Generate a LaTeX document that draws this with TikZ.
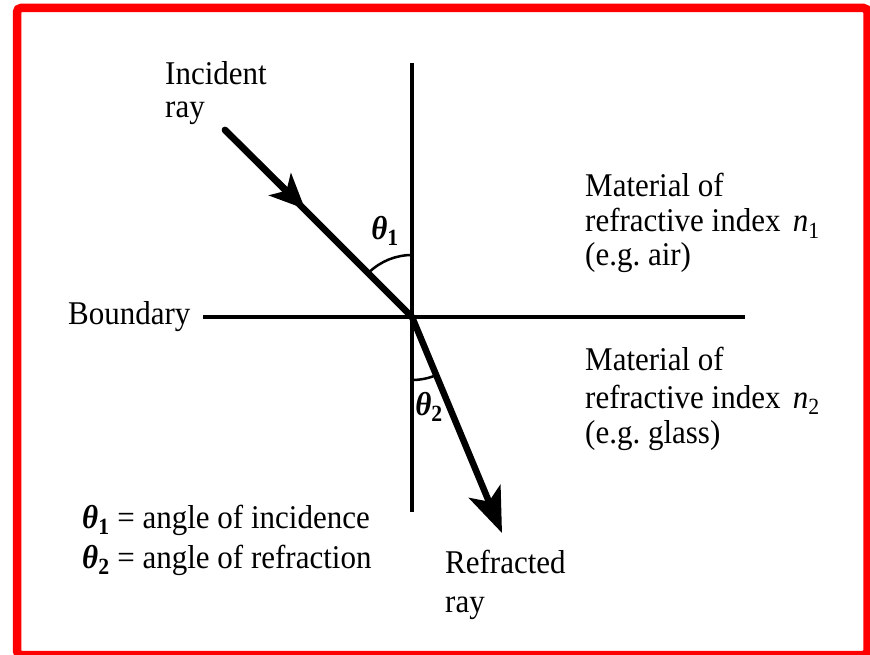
\documentclass[tikz,border=0pt]{standalone}
\usepackage{fontspec}
\usepackage{graphicx}
\setmainfont{Liberation Serif}
\usetikzlibrary{arrows.meta}
\frenchspacing
\newcommand{\vs}[1]{\scalebox{1}[1.07]{#1}}
\tikzset{
  txt/.style={anchor=base west, inner sep=0pt, font=\fontsize{31}{35}\selectfont},
  thinline/.style={line width=4.5pt},
  ray/.style={line width=6.5pt, line cap=round},
  anglearc/.style={line width=2.5pt},
  frame/.style={draw=red, line width=8.5pt, rounded corners=4pt}
}
\newcommand{\thb}[1]{\textbf{\textit{θ}\textsubscript{#1}}}
\begin{document}
\begin{tikzpicture}[x=1pt,y=1pt]
\useasboundingbox (0,0) rectangle (870,654);
\fill[white] (0,0) rectangle (870,654);
\draw[frame] (17,-1) rectangle (867.5,646);
% geometry
\coordinate (O) at (412,337);
\coordinate (vt) at (412,591);
\coordinate (vb) at (412,142);
\coordinate (bl) at (203,337);
\coordinate (br) at (745,337);
\coordinate (inA) at (225,524);
\coordinate (inM) at (305,445);
\coordinate (rfT) at (502,121);
\draw[thinline] (vt) -- (vb);
\draw[thinline] (bl) -- (br);
% incident ray
\draw[ray] (inA) -- (O);
\draw[ray, -{Stealth[length=35pt, width=31pt, inset=9pt]}] (inA) -- (inM);
% refracted ray
\draw[ray, line cap=butt, -{Stealth[length=45pt, width=34pt, inset=11pt]}] (O) -- (rfT);
% angle arcs
\draw[anglearc] ([shift={(90:62)}]O) arc[start angle=90, end angle=134, radius=62];
\draw[anglearc] ([shift={(270:63)}]O) arc[start angle=270, end angle=292, radius=63];
\node[inner sep=0pt, font=\fontsize{31}{35}\selectfont] (t1) at (385,423) {\vs{\thb{1}}};
\node[inner sep=0pt, font=\fontsize{31}{35}\selectfont] (t2) at (429,247) {\vs{\thb{2}}};
% labels
\node[txt] (inc1) at (165,569) {\vs{Incident}};
\node[txt] (inc2) at (165,536) {\vs{ray}};
\node[txt] (bnd) at (68,329) {\vs{Boundary}};
\node[txt] (m1a) at (585,457) {\vs{Material of}};
\node[txt] (m1b) at (585,422) {\vs{refractive index\hspace{0.4em}\textit{n}\textsubscript{1}}};
\node[txt] (m1c) at (585,388) {\vs{(e.g. air)}};
\node[txt] (m2a) at (585,283) {\vs{Material of}};
\node[txt] (m2b) at (585,246) {\vs{refractive index\hspace{0.4em}\textit{n}\textsubscript{2}}};
\node[txt] (m2c) at (585,211) {\vs{(e.g. glass)}};
\node[txt] (d1) at (82,126) {\vs{\thb{1} = angle of incidence}};
\node[txt] (d2) at (82,86) {\vs{\thb{2} = angle of refraction}};
\node[txt] (rf1) at (445,81) {\vs{Refracted}};
\node[txt] (rf2) at (445,42) {\vs{ray}};
\end{tikzpicture}
\end{document}
